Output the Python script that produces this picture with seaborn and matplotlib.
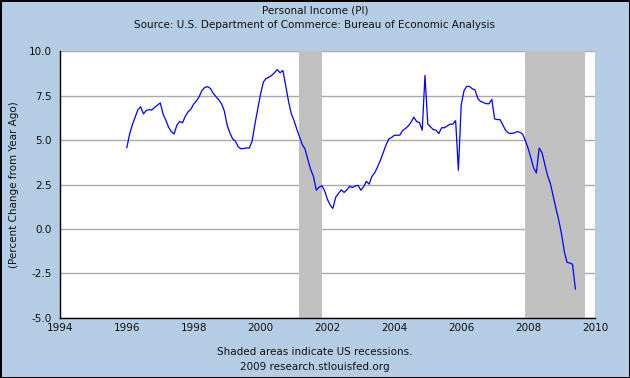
import numpy as np
import pandas as pd
import matplotlib
matplotlib.use("Agg")
import matplotlib.pyplot as plt
import matplotlib.dates as mdates
import seaborn as sns

# Personal income, percent change from year ago, monthly Jan 1996 .. Jun 2009
pi_1996 = [4.57, 5.35, 5.85, 6.30, 6.72, 6.88, 6.48, 6.68, 6.72, 6.70, 6.85, 6.97]
pi_1997 = [7.10, 6.45, 6.15, 5.73, 5.48, 5.35, 5.85, 6.05, 5.98, 6.35, 6.60, 6.75]
pi_1998 = [7.04, 7.22, 7.45, 7.80, 7.97, 8.02, 7.92, 7.65, 7.45, 7.28, 7.05, 6.65]
pi_1999 = [5.85, 5.40, 5.08, 4.94, 4.63, 4.51, 4.53, 4.56, 4.56, 4.95, 5.92, 6.75]
pi_2000 = [7.60, 8.28, 8.47, 8.55, 8.65, 8.80, 8.98, 8.80, 8.93, 8.10, 7.20, 6.50]
pi_2001 = [6.10, 5.60, 5.20, 4.75, 4.50, 3.90, 3.35, 2.95, 2.18, 2.35, 2.43, 2.15]
pi_2002 = [1.65, 1.33, 1.15, 1.78, 2.00, 2.20, 2.05, 2.20, 2.40, 2.33, 2.42, 2.45]
pi_2003 = [2.18, 2.38, 2.68, 2.52, 2.95, 3.16, 3.48, 3.85, 4.28, 4.70, 5.06, 5.15]
pi_2004 = [5.27, 5.28, 5.28, 5.55, 5.65, 5.80, 6.00, 6.30, 6.05, 6.00, 5.56, 8.65]
pi_2005 = [5.90, 5.74, 5.60, 5.56, 5.37, 5.70, 5.70, 5.80, 5.90, 5.90, 6.10, 3.30]
pi_2006 = [7.00, 7.80, 8.03, 8.03, 7.90, 7.83, 7.35, 7.18, 7.12, 7.06, 7.05, 7.30]
pi_2007 = [6.20, 6.16, 6.16, 5.85, 5.55, 5.40, 5.38, 5.40, 5.48, 5.45, 5.35, 5.00]
pi_2008 = [4.55, 4.00, 3.45, 3.15, 4.55, 4.30, 3.65, 3.00, 2.55, 1.85, 1.15, 0.50]
pi_2009 = [-0.30, -1.30, -1.88, -1.93, -2.00, -3.40]

recessions = [("2001-03-01", "2001-11-01"), ("2007-12-01", "2009-09-15")]
y_ticks = [-5.0, -2.5, 0.0, 2.5, 5.0, 7.5, 10.0]
x_years = list(range(1994, 2011, 2))

values = (pi_1996 + pi_1997 + pi_1998 + pi_1999 + pi_2000 + pi_2001 + pi_2002
          + pi_2003 + pi_2004 + pi_2005 + pi_2006 + pi_2007 + pi_2008 + pi_2009)
df = pd.DataFrame({
    "date": pd.date_range("1996-01-01", periods=len(values), freq="MS"),
    "pi": values,
})

bg = "#B4CCE4"
sns.set_style("white")
plt.rcParams["font.family"] = ["DejaVu Sans"]

fig = plt.figure(figsize=(6.3, 3.78), dpi=100, facecolor=bg)
fig.patch.set_edgecolor("black")
fig.patch.set_linewidth(2)
ax = fig.add_axes([0.0952, 0.16, 0.8492, 0.7038])
ax.set_facecolor("white")

for y in y_ticks:
    ax.axhline(y, color="#AAAAAA", lw=1, zorder=1)
for start, end in recessions:
    ax.axvspan(pd.Timestamp(start), pd.Timestamp(end), color="#C0C0C0", lw=0, zorder=2)

sns.lineplot(data=df, x="date", y="pi", color="#0000FF", lw=0.9, ax=ax, zorder=3)

ax.set_xlim(pd.Timestamp("1994-01-01"), pd.Timestamp("2010-01-01"))
ax.set_ylim(-5, 10)
ax.set_xticks([pd.Timestamp(f"{y}-01-01") for y in x_years])
ax.xaxis.set_major_formatter(mdates.DateFormatter("%Y"))
ax.set_yticks(y_ticks)
ax.set_yticklabels([f"{v:.1f}" for v in y_ticks])
ax.tick_params(direction="in", length=5, width=1, color="black",
               labelsize=7.5, labelcolor="#111111", pad=4)
ax.tick_params(axis="y", pad=6)

for side in ["top", "right"]:
    ax.spines[side].set_visible(False)
for side in ["left", "bottom"]:
    ax.spines[side].set_color("black")
    ax.spines[side].set_linewidth(1)

ax.set_xlabel("")
ax.set_ylabel("(Percent Change from Year Ago)", fontsize=7.5, color="#111111", labelpad=7)

fig.text(0.5, 0.971, "Personal Income (PI)", ha="center", va="center", fontsize=7.5, color="#111111")
fig.text(0.5, 0.933, "Source: U.S. Department of Commerce: Bureau of Economic Analysis",
         ha="center", va="center", fontsize=7.5, color="#111111")
fig.text(0.5, 0.069, "Shaded areas indicate US recessions.", ha="center", va="center",
         fontsize=7.5, color="#111111")
fig.text(0.5, 0.029, "2009 research.stlouisfed.org", ha="center", va="center",
         fontsize=7.5, color="#111111")

fig.savefig("out.png", dpi=100, facecolor=fig.get_facecolor(), edgecolor=fig.get_edgecolor())
